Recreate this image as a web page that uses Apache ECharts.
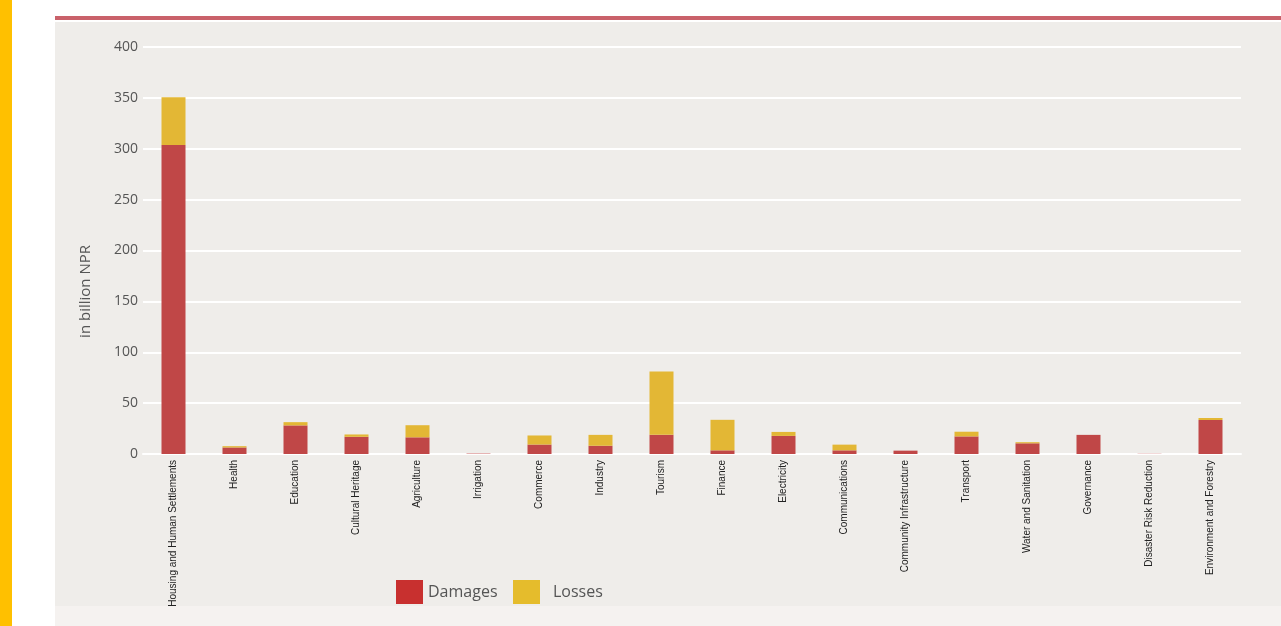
<!DOCTYPE html>
<html>
<head>
<meta charset="utf-8">
<script src="https://cdn.jsdelivr.net/npm/echarts@6/dist/echarts.min.js"></script>
<style>
html,body{margin:0;padding:0;width:1281px;height:626px;overflow:hidden;background:#fff;}
#strip{position:absolute;left:0;top:0;width:12px;height:626px;background:#FFC000;}
#redline{position:absolute;left:55px;top:16px;width:1226px;height:4px;background:#C9616A;}
#panel{position:absolute;left:55px;top:22px;width:1226px;height:584px;background:#EFEDEA;}
#foot{position:absolute;left:55px;top:606px;width:1226px;height:20px;background:#F5F2F0;}
#chart{position:absolute;left:0;top:0;width:1281px;height:626px;}
</style>
</head>
<body>
<div id="strip"></div>
<div id="redline"></div>
<div id="panel"></div>
<div id="foot"></div>
<div id="chart"></div>
<script>
const categories = ['Housing and Human Settlements','Health','Education','Cultural Heritage','Agriculture','Irrigation','Commerce','Industry','Tourism','Finance','Electricity','Communications','Community Infrastructure','Transport','Water and Sanitation','Governance','Disaster Risk Reduction','Environment and Forestry'];
const damages = [303.6, 6.4, 28.1, 16.9, 16.4, 0.4, 9.3, 8.1, 18.9, 3.6, 17.8, 3.6, 3.3, 17.3, 10.5, 18.8, 0.2, 33.4];
const losses  = [46.9, 1.3, 3.2, 2.3, 11.9, 0, 8.9, 10.7, 62.3, 30.0, 3.9, 5.6, 0, 4.6, 1.1, 0, 0, 2.0];
const yTicks = [0, 50, 100, 150, 200, 250, 300, 350, 400];
const yAxisTitle = 'in billion NPR';

const legendFont = '"Open Sans", "Noto Sans", sans-serif';
const chart = echarts.init(document.getElementById('chart'), null, {renderer: 'canvas'});
chart.setOption({
  backgroundColor: 'transparent',
  animation: false,
  grid: {left: 143, right: 40, top: 47, bottom: 172, containLabel: false},
  legend: [
    {
      left: 396, top: 580, padding: 0, icon: 'rect',
      itemWidth: 27, itemHeight: 24,
      textStyle: {fontSize: 16, color: '#555', fontFamily: legendFont},
      data: [{name: 'Damages', itemStyle: {color: '#C8302F'}}]
    },
    {
      left: 513, top: 580, padding: 0, icon: 'rect',
      itemWidth: 27, itemHeight: 24,
      textStyle: {fontSize: 16, color: '#555', fontFamily: legendFont, padding: [0, 0, 0, 8]},
      data: [{name: 'Losses', itemStyle: {color: '#E5BC2C'}}]
    }
  ],
  xAxis: {
    type: 'category',
    data: categories,
    axisLine: {show: true, lineStyle: {color: '#FFFFFF', width: 2}},
    axisTick: {show: false},
    axisLabel: {
      interval: 0, rotate: 90, fontSize: 10, margin: 6, color: '#222',
      fontFamily: '"Liberation Sans Narrow", "Liberation Sans", sans-serif'
    }
  },
  yAxis: {
    type: 'value',
    min: yTicks[0], max: yTicks[yTicks.length - 1], interval: 50,
    axisLine: {show: false},
    axisTick: {show: false},
    splitLine: {lineStyle: {color: '#FFFFFF', width: 2}},
    axisLabel: {fontSize: 14, color: '#555', margin: 5, fontFamily: legendFont}
  },
  graphic: [{
    type: 'text',
    left: 78, top: 245,
    rotation: Math.PI / 2,
    style: {text: yAxisTitle, fontSize: 15, fill: '#555', fontFamily: legendFont}
  }],
  series: [
    {name: 'Damages', type: 'bar', stack: 'total', data: damages, barWidth: 24,
     itemStyle: {color: '#C04747'}},
    {name: 'Losses', type: 'bar', stack: 'total', data: losses, barWidth: 24,
     itemStyle: {color: '#E3B735'}}
  ]
});
</script>
</body>
</html>
